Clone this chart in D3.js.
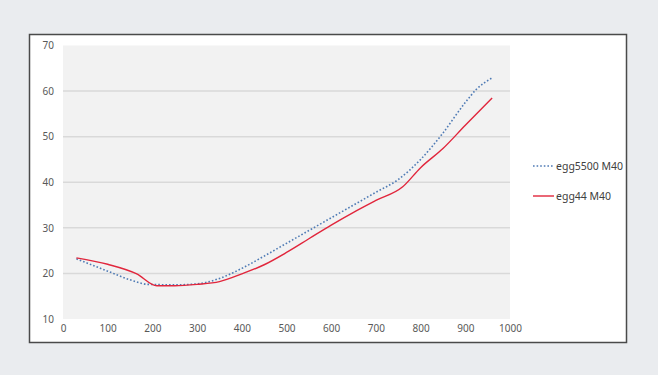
<!DOCTYPE html>
<html>
<head>
<meta charset="utf-8">
<script src="https://cdn.jsdelivr.net/npm/d3@7"></script>
<style>
  body { margin: 0; background: #eaecef; }
  svg { display: block; }
</style>
</head>
<body>
<svg width="658" height="375"></svg>
<script>
// series names
const seriesNames = ["egg5500 M40", "egg44 M40"];

// egg5500 M40 (blue dotted)
const blueX = [30, 100, 150, 190, 250, 300, 350, 400, 450, 500, 550, 600, 650, 700, 750, 800, 850, 900, 925, 960];
const blueY = [23.2, 20.5, 18.6, 17.6, 17.5, 17.7, 18.9, 21.1, 23.8, 26.6, 29.4, 32.2, 35.0, 37.8, 40.6, 45.0, 50.8, 57.5, 60.4, 62.9];

// egg44 M40 (red)
const redX = [30, 100, 165, 210, 250, 300, 350, 400, 450, 500, 550, 600, 650, 700, 760, 800, 850, 900, 960];
const redY = [23.4, 22.0, 19.9, 17.3, 17.3, 17.6, 18.2, 19.9, 21.9, 24.6, 27.6, 30.6, 33.4, 36.0, 39.0, 43.2, 47.4, 52.5, 58.5];

const xTicks = [0, 100, 200, 300, 400, 500, 600, 700, 800, 900, 1000];
const yTicks = [10, 20, 30, 40, 50, 60, 70];

const svg = d3.select("svg");

// white chart panel
svg.append("rect")
  .attr("x", 29.5).attr("y", 34.5)
  .attr("width", 597).attr("height", 308)
  .attr("fill", "#fff")
  .attr("stroke", "#4a4a4a")
  .attr("stroke-width", 1.5);

const x = d3.scaleLinear().domain([0, 1000]).range([63, 510]);
const y = d3.scaleLinear().domain([10, 70]).range([319, 45.5]);

// gray plot area
svg.append("rect")
  .attr("x", x(0)).attr("y", y(70))
  .attr("width", x(1000) - x(0)).attr("height", y(10) - y(70))
  .attr("fill", "#f2f2f2");

// gridlines
svg.selectAll("line.grid")
  .data(yTicks.filter(d => d > 10 && d < 70))
  .join("line")
  .attr("class", "grid")
  .attr("x1", x(0)).attr("x2", x(1000))
  .attr("y1", d => y(d)).attr("y2", d => y(d))
  .attr("stroke", "#d9d9d9")
  .attr("stroke-width", 1.5);

// y axis labels
const yAxis = d3.axisLeft(y).tickValues(yTicks).tickSize(0).tickPadding(9).tickFormat(d3.format("d"));
svg.append("g")
  .attr("transform", `translate(${x(0)},0)`)
  .call(yAxis)
  .call(g => g.select(".domain").remove())
  .selectAll("text")
  .attr("font-family", "Noto Sans, sans-serif")
  .attr("font-size", 10)
  .attr("fill", "#595959");

// x axis labels
const xAxis = d3.axisBottom(x).tickValues(xTicks).tickSize(0).tickPadding(6).tickFormat(d3.format("d"));
svg.append("g")
  .attr("transform", `translate(0,${y(10)})`)
  .call(xAxis)
  .call(g => g.select(".domain").remove())
  .selectAll("text")
  .attr("font-family", "Noto Sans, sans-serif")
  .attr("font-size", 10)
  .attr("fill", "#595959");

const line = d3.line()
  .x(d => x(d[0]))
  .y(d => y(d[1]))
  .curve(d3.curveMonotoneX);

const series = [
  { name: seriesNames[0], pts: d3.zip(blueX, blueY), color: "#4f7bb5", dash: "1.6,2", w: 1.6 },
  { name: seriesNames[1], pts: d3.zip(redX, redY), color: "#e1263c", dash: null, w: 1.4 }
];

svg.selectAll("path.series")
  .data(series)
  .join("path")
  .attr("class", "series")
  .attr("d", d => line(d.pts))
  .attr("fill", "none")
  .attr("stroke", d => d.color)
  .attr("stroke-width", d => d.w)
  .attr("stroke-dasharray", d => d.dash);

// legend
const legend = svg.selectAll("g.legend")
  .data(series)
  .join("g")
  .attr("class", "legend")
  .attr("transform", (d, i) => `translate(533,${166 + i * 30})`);

legend.append("line")
  .attr("x1", 0).attr("x2", 21)
  .attr("stroke", d => d.color)
  .attr("stroke-width", d => d.w)
  .attr("stroke-dasharray", d => d.dash);

legend.append("text")
  .attr("x", 23).attr("y", 4)
  .attr("font-family", "Noto Sans, sans-serif")
  .attr("font-size", 10.5)
  .attr("fill", "#404040")
  .text(d => d.name);
</script>
</body>
</html>
